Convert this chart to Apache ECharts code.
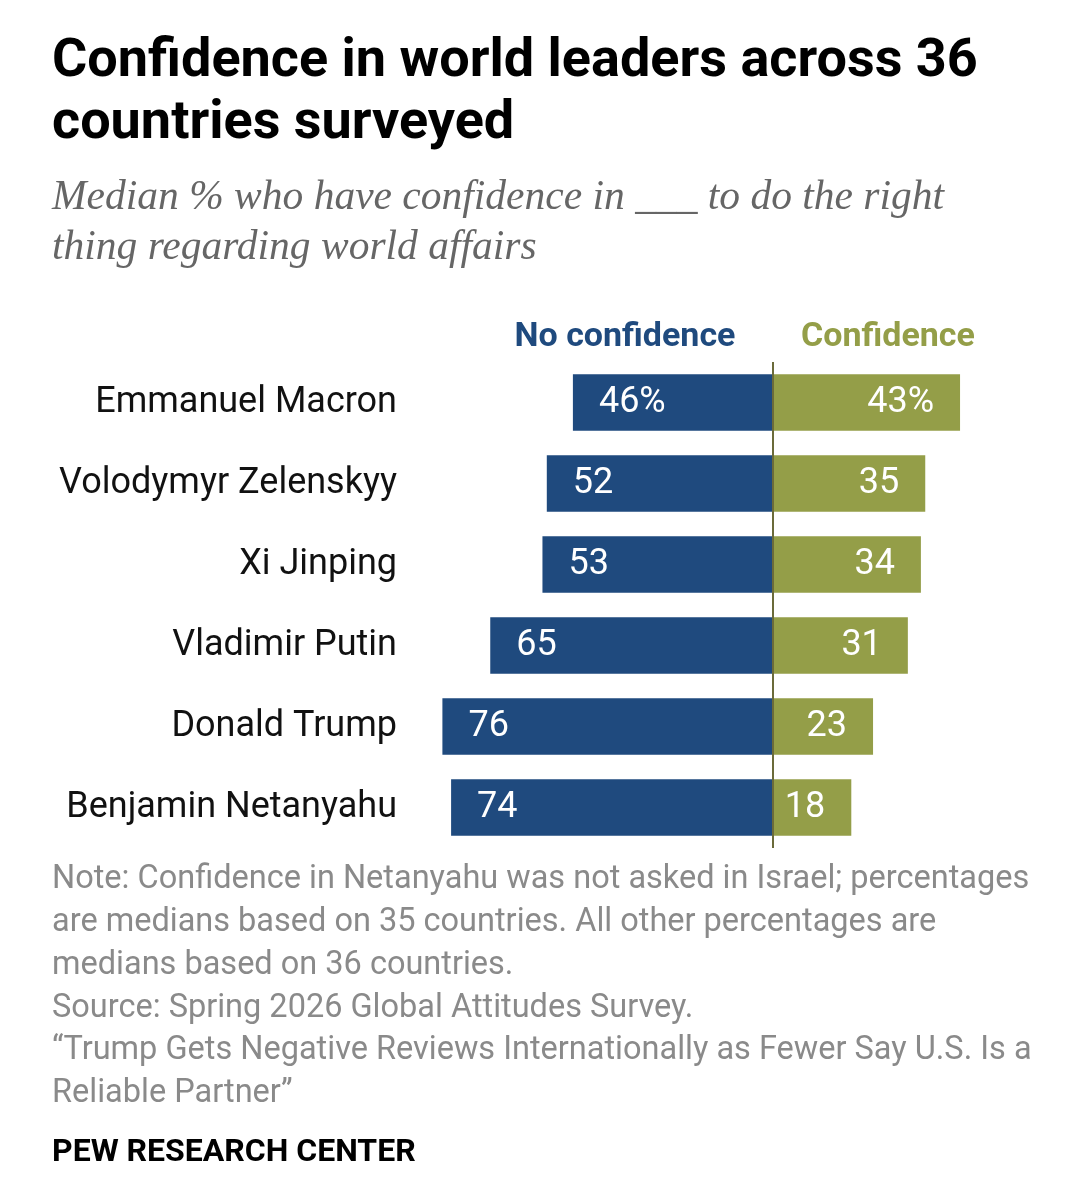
<!DOCTYPE html>
<html>
<head>
<meta charset="utf-8">
<script src="https://cdn.jsdelivr.net/npm/echarts@6/dist/echarts.min.js"></script>
<style>
  html, body { margin: 0; padding: 0; background: #fff; }
  #chart { width: 1079px; height: 1200px; }
</style>
</head>
<body>
<div id="chart"></div>
<script>
const leaders = ['Emmanuel Macron', 'Volodymyr Zelenskyy', 'Xi Jinping', 'Vladimir Putin', 'Donald Trump', 'Benjamin Netanyahu'];
const noConfidence = [46, 52, 53, 65, 76, 74];
const confidence = [43, 35, 34, 31, 23, 18];

const BLUE = '#1f4a7e';
const GREEN = '#949e48';
const SANS = 'Roboto, "Liberation Sans", sans-serif';

const chart = echarts.init(document.getElementById('chart'));

const noteLines = [
  'Note: Confidence in Netanyahu was not asked in Israel; percentages',
  'are medians based on 35 countries. All other percentages are',
  'medians based on 36 countries.',
  'Source: Spring 2026 Global Attitudes Survey.',
  '\u201cTrump Gets Negative Reviews Internationally as Fewer Say U.S. Is a',
  'Reliable Partner\u201d'
];

const option = {
  backgroundColor: '#fff',
  animation: false,
  title: {
    left: 52,
    top: 31,
    padding: 0,
    text: 'Confidence in world leaders across 36\ncountries surveyed',
    textStyle: { fontFamily: SANS, fontWeight: 'bold', fontSize: 54, lineHeight: 62, color: '#000' },
    subtext: 'Median % who have confidence in ___ to do the right\nthing regarding world affairs',
    subtextStyle: { fontFamily: '"Liberation Serif", serif', fontStyle: 'italic', fontSize: 41.5, lineHeight: 50, color: '#666' },
    itemGap: 18
  },
  grid: { left: 425, width: 565.5, top: 362, height: 486 },
  xAxis: {
    type: 'value',
    min: -80,
    max: 50,
    show: false
  },
  yAxis: {
    type: 'category',
    data: leaders,
    inverse: true,
    axisLine: { show: false },
    axisTick: { show: false },
    axisLabel: { margin: 28, fontFamily: SANS, fontSize: 36, color: '#111', padding: [6, 0, 0, 0] }
  },
  series: [
    {
      name: 'No confidence',
      type: 'bar',
      stack: 'total',
      barCategoryGap: '30%',
      data: noConfidence.map(v => -v),
      itemStyle: { color: BLUE },
      label: {
        show: true,
        position: 'insideLeft',
        distance: 26,
        color: '#fff',
        fontFamily: SANS,
        fontSize: 36,
        padding: [6, 0, 0, 0],
        formatter: p => Math.abs(p.value) + (p.dataIndex === 0 ? '%' : '')
      },
      markLine: {
        silent: true,
        symbol: 'none',
        label: { show: false },
        lineStyle: { color: '#6b6b3a', width: 2, type: 'solid' },
        data: [{ xAxis: 0 }]
      }
    },
    {
      name: 'Confidence',
      type: 'bar',
      stack: 'total',
      barCategoryGap: '30%',
      data: confidence,
      itemStyle: { color: GREEN },
      label: {
        show: true,
        position: 'insideRight',
        distance: 26,
        color: '#fff',
        fontFamily: SANS,
        fontSize: 36,
        padding: [6, 0, 0, 0],
        formatter: p => p.value + (p.dataIndex === 0 ? '%' : '')
      }
    }
  ],
  graphic: [
    {
      type: 'text', x: 625, y: 337,
      style: { text: 'No confidence', fill: BLUE, font: 'bold 34px ' + SANS, align: 'center', verticalAlign: 'middle' }
    },
    {
      type: 'text', x: 888, y: 337,
      style: { text: 'Confidence', fill: GREEN, font: 'bold 34px ' + SANS, align: 'center', verticalAlign: 'middle' }
    },
    {
      type: 'text', left: 52, top: 859,
      style: { text: noteLines.join('\n'), fill: '#8a8a8a', font: '32.5px ' + SANS, lineHeight: 42.7 }
    },
    {
      type: 'text', x: 52, y: 1153,
      style: { text: 'PEW RESEARCH CENTER', fill: '#000', font: 'bold 32px ' + SANS, verticalAlign: 'middle' }
    }
  ]
};

chart.setOption(option);
</script>
</body>
</html>
